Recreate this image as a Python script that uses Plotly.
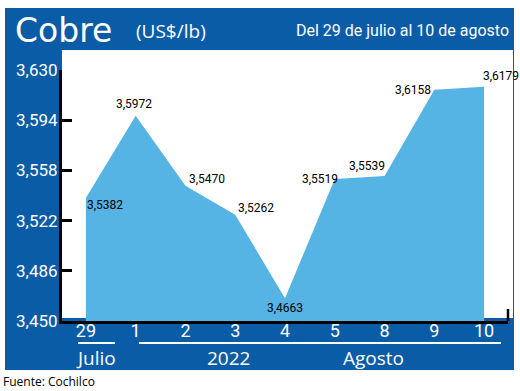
import plotly.graph_objects as go

# ---- data ----
dias = ["29", "1", "2", "3", "4", "5", "8", "9", "10"]
precios = [3.5382, 3.5972, 3.5470, 3.5262, 3.4663, 3.5519, 3.5539, 3.6158, 3.6179]
etiquetas = ["3,5382", "3,5972", "3,5470", "3,5262", "3,4663", "3,5519", "3,5539", "3,6158", "3,6179"]
y_ticks = [3.450, 3.486, 3.522, 3.558, 3.594, 3.630]
y_ticktext = ["3,450", "3,486", "3,522", "3,558", "3,594", "3,630"]
grupos = ["Julio", "2022", "Agosto"]

W, H = 520, 391
ML, MR, MT, MB = 62, 12, 70, 70
PW, PH = W - ML - MR, H - MT - MB

def px(x):
    return (x - ML) / PW

def py(y):
    return (H - MB - y) / PH

DARK = "#0b5ca7"
LIGHT = "#56b4e4"
NARROW = "Roboto, Liberation Sans Narrow, sans-serif"
SANS = "Open Sans, Noto Sans, sans-serif"

idx = list(range(len(dias)))

fig = go.Figure()
fig.add_trace(go.Scatter(
    x=idx, y=precios, mode="lines", fill="tozeroy",
    line=dict(color=LIGHT, width=0), fillcolor=LIGHT, hoverinfo="skip",
))

shapes = [
    dict(type="rect", xref="paper", yref="paper", x0=px(5), x1=px(514), y0=py(370), y1=py(8),
         fillcolor=DARK, line=dict(width=0), layer="below"),
    dict(type="rect", xref="paper", yref="paper", x0=px(62), x1=px(513), y0=py(318), y1=py(50),
         fillcolor="white", line=dict(width=0), layer="below"),
    dict(type="line", xref="paper", yref="paper", x0=1, x1=1, y0=0, y1=py(309),
         line=dict(color="black", width=2.5)),
    dict(type="line", xref="paper", yref="paper", x0=px(78), x1=px(115), y0=py(343), y1=py(343),
         line=dict(color="white", width=2)),
    dict(type="line", xref="paper", yref="paper", x0=px(139), x1=px(501), y0=py(343), y1=py(343),
         line=dict(color="white", width=2)),
]

# label placement styles: (xanchor, yanchor, xshift, yshift)
pos = [
    ("left", "top", -1, 2),
    ("center", "bottom", -2, 3),
    ("left", "bottom", 2, -2),
    ("left", "bottom", 1, -2),
    ("center", "top", 0, -1),
    ("right", "middle", 5, 0),
    ("right", "bottom", 2, 1),
    ("right", "middle", -1, 0),
    ("left", "bottom", -3, 2),
]

ann = []
for i, (v, t) in enumerate(zip(precios, etiquetas)):
    xa, ya, xs, ys = pos[i]
    ann.append(dict(x=i, y=v, text=t, showarrow=False, xanchor=xa, yanchor=ya,
                    xshift=xs, yshift=ys, font=dict(family=NARROW, size=12, color="black")))

for g, xc in zip(grupos, [96, 228, 373]):
    ann.append(dict(xref="paper", yref="paper", x=px(xc), y=py(358), text=g, showarrow=False,
                    xanchor="center", yanchor="middle",
                    font=dict(family=SANS, size=19, color="white")))

ann.append(dict(xref="paper", yref="paper", x=px(13), y=py(31), text="Cobre", showarrow=False,
                xanchor="left", yanchor="middle",
                font=dict(family="DejaVu Sans, sans-serif", size=33, color="white")))
ann.append(dict(xref="paper", yref="paper", x=px(134), y=py(31), text="(US$/lb)", showarrow=False,
                xanchor="left", yanchor="middle",
                font=dict(family=SANS, size=19, color="white")))
ann.append(dict(xref="paper", yref="paper", x=px(511), y=py(31), text="Del 29 de julio al 10 de agosto",
                showarrow=False, xanchor="right", yanchor="middle",
                font=dict(family=NARROW, size=16, color="white")))
ann.append(dict(xref="paper", yref="paper", x=px(1), y=py(381), text="Fuente: Cochilco", showarrow=False,
                xanchor="left", yanchor="middle",
                font=dict(family=SANS, size=12, color="black")))

fig.update_layout(
    width=W, height=H,
    margin=dict(l=ML, r=MR, t=MT, b=MB),
    paper_bgcolor="white", plot_bgcolor="rgba(0,0,0,0)",
    showlegend=False,
    shapes=shapes, annotations=ann,
    xaxis=dict(range=[-0.48, 8.48], tickvals=idx, ticktext=dias, showgrid=False, zeroline=False,
               showline=True, linecolor="black", linewidth=2.5, ticks="",
               ticklabelstandoff=-8,
               tickfont=dict(family=NARROW, size=18, color="white")),
    yaxis=dict(range=[3.45, 3.63], tickvals=y_ticks, ticktext=y_ticktext, showgrid=False,
               zeroline=False, showline=True, linecolor="black", linewidth=3,
               ticks="inside", ticklen=10, tickwidth=3, tickcolor="black",
               ticklabelstandoff=-2,
               tickfont=dict(family=NARROW, size=17, color="white")),
)

fig.write_html("out.html", config={"displayModeBar": False},
               post_script="document.body.style.margin='0px';document.body.style.overflow='hidden';")
